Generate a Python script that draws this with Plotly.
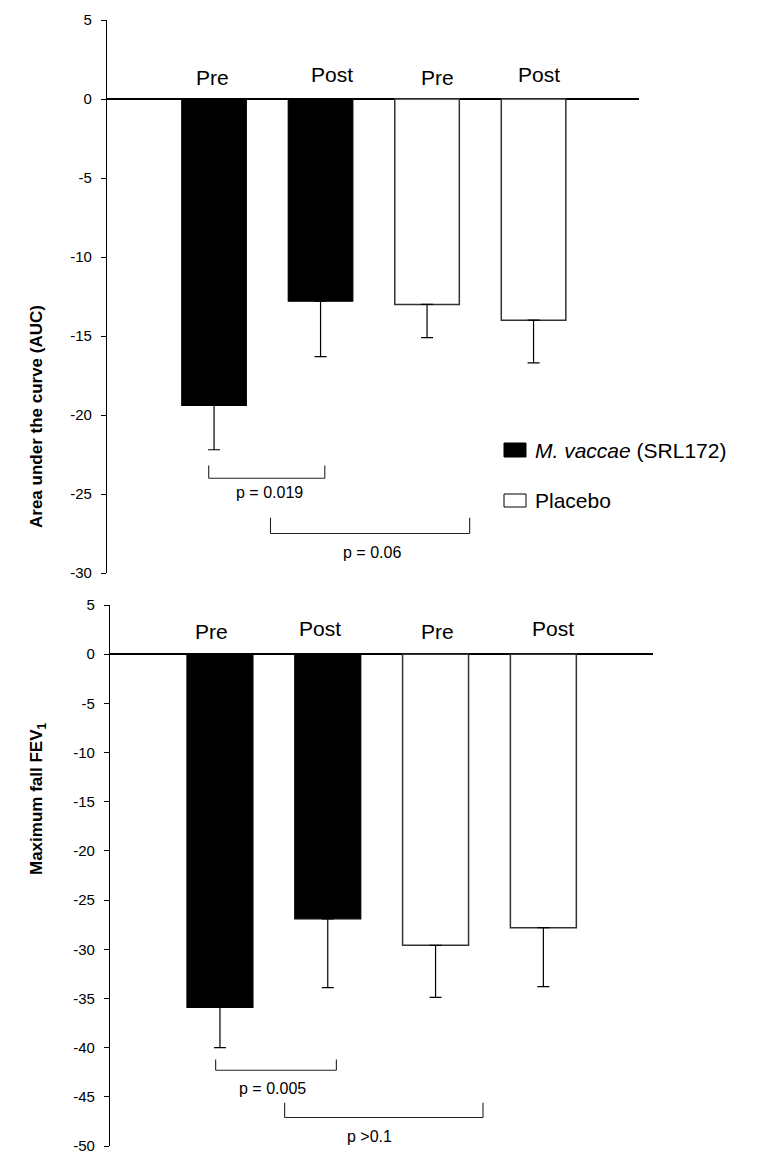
import plotly.graph_objects as go

# Group means and lower error (SEM) for each panel
phases = ["Pre", "Post"]
auc_vaccae = [-19.4, -12.8]
auc_vaccae_err = [2.8, 3.5]
auc_placebo = [-13.0, -14.0]
auc_placebo_err = [2.1, 2.7]

fev_vaccae = [-35.9, -26.9]
fev_vaccae_err = [4.1, 7.0]
fev_placebo = [-29.6, -27.8]
fev_placebo_err = [5.3, 6.0]

auc_ticks = [5, 0, -5, -10, -15, -20, -25, -30]
fev_ticks = [5, 0, -5, -10, -15, -20, -25, -30, -35, -40, -45, -50]

W, H = 759, 1154
FONT = "Liberation Sans, Arial, sans-serif"


def px_x(p):
    return p / W


def px_y(p):
    return 1 - p / H


fig = go.Figure()

panels = [
    dict(xa="x", ya="y", vac=auc_vaccae, vac_e=auc_vaccae_err,
         pla=auc_placebo, pla_e=auc_placebo_err, width=0.606),
    dict(xa="x2", ya="y2", vac=fev_vaccae, vac_e=fev_vaccae_err,
         pla=fev_placebo, pla_e=fev_placebo_err, width=0.612),
]

for p in panels:
    fig.add_trace(go.Bar(
        x=[0, 1], y=p["vac"], width=p["width"], xaxis=p["xa"], yaxis=p["ya"],
        marker=dict(color="black", line=dict(color="black", width=1.2)),
        error_y=dict(type="data", symmetric=False, array=[0, 0],
                     arrayminus=p["vac_e"], color="black", thickness=1.2, width=6),
        showlegend=False, hoverinfo="skip",
    ))
    fig.add_trace(go.Bar(
        x=[2, 3], y=p["pla"], width=p["width"], xaxis=p["xa"], yaxis=p["ya"],
        marker=dict(color="white", line=dict(color="#333333", width=1.5)),
        error_y=dict(type="data", symmetric=False, array=[0, 0],
                     arrayminus=p["pla_e"], color="black", thickness=1.2, width=6),
        showlegend=False, hoverinfo="skip",
    ))

yaxis_common = dict(
    showline=True, linecolor="black", linewidth=1.2,
    ticks="outside", ticklen=5, tickcolor="black", tickwidth=1.2,
    showgrid=False, zeroline=True, zerolinecolor="black", zerolinewidth=1.5,
    tickfont=dict(family=FONT, size=15, color="black"),
    ticklabelstandoff=6, automargin=False, ticklabeloverflow="allow",
)

fig.update_layout(
    width=W, height=H,
    margin=dict(l=0, r=0, t=0, b=0),
    paper_bgcolor="white", plot_bgcolor="white",
    bargap=0.4,
    xaxis=dict(domain=[px_x(107), px_x(639)], range=[-1.005, 3.99],
               visible=False, fixedrange=True, anchor="y"),
    yaxis=dict(domain=[px_y(573), px_y(20)], range=[-30, 5],
               tickvals=auc_ticks, ticktext=[str(v) for v in auc_ticks],
               anchor="x", **yaxis_common),
    xaxis2=dict(domain=[px_x(110), px_x(653)], range=[-1.02, 4.017],
                visible=False, fixedrange=True, anchor="y2"),
    yaxis2=dict(domain=[px_y(1146), px_y(605)], range=[-50, 5],
                tickvals=fev_ticks, ticktext=[str(v) for v in fev_ticks],
                anchor="x2", **yaxis_common),
)

annotations = []
shapes = []

# Phase labels above each bar
label_specs = [
    ("x", "y", [1.33, 1.52, 1.33, 1.52], [-2, 11, 10, 5]),
    ("x2", "y2", [2.33, 2.6, 2.33, 2.6], [-8, -8, 2, 10]),
]
for xa, ya, ys, shifts in label_specs:
    for i, (lab, yy, sh) in enumerate(zip(phases * 2, ys, shifts)):
        annotations.append(dict(
            x=i, y=yy, xref=xa, yref=ya, text=lab, showarrow=False,
            xshift=sh, yanchor="middle", xanchor="center",
            font=dict(family=FONT, size=21, color="black"),
        ))

# Significance brackets: (xref, yref, x0, x1, y_top, y_line, text, text_x, text_y)
brackets = [
    ("x", "y", -0.05, 1.04, -23.2, -24.0, "p = 0.019", 0.52, -24.9),
    ("x", "y", 0.53, 2.40, -26.5, -27.5, "p = 0.06", 1.48, -28.7),
    ("x2", "y2", -0.04, 1.08, -41.2, -42.3, "p = 0.005", 0.49, -44.2),
    ("x2", "y2", 0.60, 2.44, -45.6, -47.1, "p >0.1", 1.39, -49.0),
]
for xa, ya, x0, x1, yt, yl, txt, tx, ty in brackets:
    line = dict(color="#222222", width=1.1)
    shapes.append(dict(type="line", xref=xa, yref=ya, x0=x0, x1=x1, y0=yl, y1=yl, line=line))
    shapes.append(dict(type="line", xref=xa, yref=ya, x0=x0, x1=x0, y0=yt, y1=yl, line=line))
    shapes.append(dict(type="line", xref=xa, yref=ya, x0=x1, x1=x1, y0=yt, y1=yl, line=line))
    annotations.append(dict(
        x=tx, y=ty, xref=xa, yref=ya, text=txt, showarrow=False,
        font=dict(family=FONT, size=16, color="black"),
    ))

# Legend keys
legend_items = [
    ("black", "<i>M. vaccae</i> (SRL172)", 443, 457, 450),
    ("white", "Placebo", 494, 507, 500),
]
for fill, txt, y0, y1, yc in legend_items:
    shapes.append(dict(type="rect", xref="paper", yref="paper",
                       x0=px_x(504), x1=px_x(526), y0=px_y(y1), y1=px_y(y0),
                       fillcolor=fill, line=dict(color="black", width=1)))
    annotations.append(dict(
        x=px_x(533), y=px_y(yc), xref="paper", yref="paper", text=txt,
        showarrow=False, xanchor="left", yanchor="middle",
        font=dict(family=FONT, size=21, color="black"),
    ))

# Axis titles
annotations.append(dict(
    x=px_x(25), y=px_y(303), xref="paper", yref="paper",
    text="<b>Area under the curve (AUC)</b>", textangle=-90, showarrow=False,
    font=dict(family=FONT, size=17, color="black"),
))
annotations.append(dict(
    x=px_x(25), y=px_y(877), xref="paper", yref="paper",
    text="<b>Maximum fall FEV<sub>1</sub></b>", textangle=-90, showarrow=False,
    font=dict(family=FONT, size=17, color="black"),
))

fig.update_layout(annotations=annotations, shapes=shapes)

fig.write_html("out.html")
